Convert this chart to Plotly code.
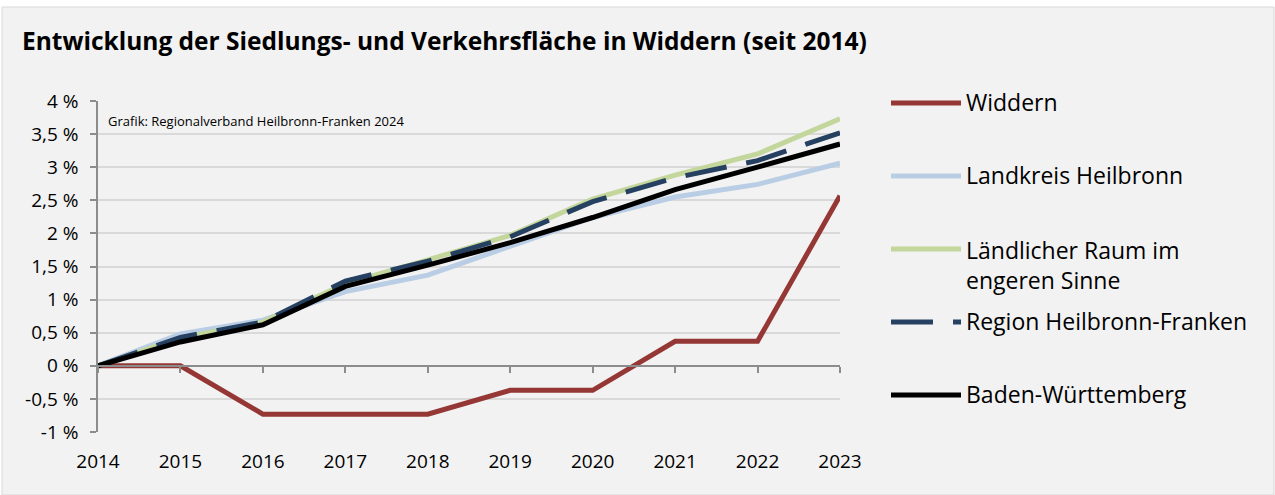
import plotly.graph_objects as go

# Kategorien (Jahre) und Entwicklung der Siedlungs- und Verkehrsfläche in % seit 2014
jahre = ["2014", "2015", "2016", "2017", "2018", "2019", "2020", "2021", "2022", "2023"]

widdern = [0.0, 0.0, -0.73, -0.73, -0.73, -0.37, -0.37, 0.37, 0.37, 2.57]
landkreis_heilbronn = [0.0, 0.48, 0.69, 1.12, 1.37, 1.80, 2.24, 2.55, 2.74, 3.06]
laendlicher_raum = [0.0, 0.42, 0.66, 1.24, 1.60, 1.97, 2.52, 2.88, 3.20, 3.73]
region_hnf = [0.0, 0.43, 0.66, 1.28, 1.58, 1.95, 2.48, 2.84, 3.10, 3.52]
baden_wuerttemberg = [0.0, 0.36, 0.62, 1.20, 1.52, 1.86, 2.24, 2.66, 3.00, 3.35]

y_tickwerte = [-1, -0.5, 0, 0.5, 1, 1.5, 2, 2.5, 3, 3.5, 4]
y_ticktexte = ["-1 %", "-0,5 %", "0 %", "0,5 %", "1 %", "1,5 %", "2 %", "2,5 %", "3 %", "3,5 %", "4 %"]

titel = "Entwicklung der Siedlungs- und Verkehrsfläche in Widdern (seit 2014)"
quelle = "Grafik: Regionalverband Heilbronn-Franken 2024"

serien = [
    ("Widdern", widdern, "#953735", None),
    ("Landkreis Heilbronn", landkreis_heilbronn, "#b9cde5", None),
    ("Ländlicher Raum im<br>engeren Sinne", laendlicher_raum, "#c3d69b", None),
    ("Region Heilbronn-Franken", region_hnf, "#254061", "42px,20px"),
    ("Baden-Württemberg", baden_wuerttemberg, "#000000", None),
]

W, H = 1275, 495
L, R, T, B = 98, 840, 101, 432
FONT = "Open Sans"
Y_MIN, Y_MAX = -1, 4


def px_x(px):
    return (px - L) / (R - L)


def px_y(py):
    return (B - py) / (B - T)


fig = go.Figure()

for name, werte, farbe, dash in serien:
    fig.add_trace(go.Scatter(
        x=jahre, y=werte, mode="lines", name=name,
        line=dict(color=farbe, width=5, dash=dash or "solid"),
        showlegend=False, hoverinfo="x+y+name",
    ))

# unsichtbare Spur für die Achse mit Teilstrichen auf der Nulllinie
fig.add_trace(go.Scatter(
    x=jahre, y=[0] * len(jahre), xaxis="x2", mode="lines",
    line=dict(color="rgba(0,0,0,0)", width=0), showlegend=False, hoverinfo="skip",
))

null_pos = (0 - Y_MIN) / (Y_MAX - Y_MIN)

shapes = [
    # Hintergrundrahmen des Diagramms
    dict(type="rect", xref="paper", yref="paper",
         x0=px_x(2), x1=px_x(1274), y0=px_y(7), y1=px_y(495),
         fillcolor="#f2f2f2", line=dict(color="#d9d9d9", width=1), layer="below"),
]
annotations = [
    dict(text=f"<b>{titel}</b>", xref="paper", yref="paper",
         x=px_x(20), y=px_y(40), xanchor="left", yanchor="middle",
         showarrow=False, font=dict(family=FONT, size=24.5, color="#000000")),
    dict(text=quelle, xref="paper", yref="paper",
         x=px_x(106), y=px_y(121), xanchor="left", yanchor="middle",
         showarrow=False, font=dict(family=FONT, size=13, color="#000000")),
]

# Legende rechts neben dem Diagramm
legende_y = [103, 176, 249, 322, 395]
for (name, werte, farbe, dash), ly in zip(serien, legende_y):
    shapes.append(dict(
        type="line", xref="paper", yref="paper",
        x0=px_x(891), x1=px_x(961), y0=px_y(ly), y1=px_y(ly),
        line=dict(color=farbe, width=5, dash=dash or "solid"),
    ))
    annotations.append(dict(
        text=name, xref="paper", yref="paper",
        x=px_x(964), y=px_y(ly - 1), xanchor="left",
        yanchor="top" if "<br>" in name else "middle",
        yshift=16 if "<br>" in name else 0,
        align="left", showarrow=False,
        font=dict(family=FONT, size=23, color="#000000"),
    ))

fig.update_layout(
    width=W, height=H,
    margin=dict(l=L, r=W - R, t=T, b=H - B, pad=0),
    paper_bgcolor="#ffffff", plot_bgcolor="#ffffff",
    font=dict(family=FONT, color="#000000"),
    shapes=shapes, annotations=annotations,
    xaxis=dict(
        type="category", range=[0, len(jahre) - 1],
        showgrid=False, zeroline=False, showline=False, ticks="",
        ticklabelstandoff=16, tickfont=dict(family=FONT, size=19),
    ),
    xaxis2=dict(
        type="category", range=[0, len(jahre) - 1], overlaying="x",
        anchor="free", position=null_pos, side="bottom",
        showgrid=False, zeroline=False, showline=True, linecolor="#8c8c8c", linewidth=1.5,
        ticks="outside", ticklen=6, tickwidth=1.5, tickcolor="#8c8c8c",
        showticklabels=False,
    ),
    yaxis=dict(
        range=[Y_MIN, Y_MAX], tickvals=y_tickwerte, ticktext=y_ticktexte,
        showgrid=True, gridcolor="#d9d9d9", gridwidth=1.5,
        zeroline=False, showline=True, linecolor="#8c8c8c", linewidth=1.5,
        ticks="outside", ticklen=6, tickwidth=1.5, tickcolor="#8c8c8c",
        ticklabelstandoff=8, tickfont=dict(family=FONT, size=19),
    ),
    hovermode="closest",
)

fig.write_html("out.html")
